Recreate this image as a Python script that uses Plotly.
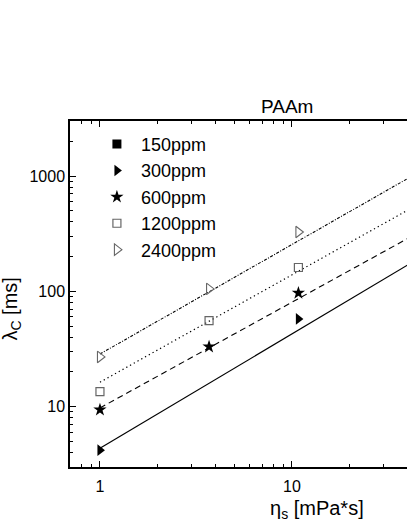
import plotly.graph_objects as go

# 데이터
eta_150 = [None]
lam_150 = [None]
eta_300 = [1.0, 10.8]
lam_300 = [4.2, 57.7]
eta_600 = [1.0, 3.7, 10.8]
lam_600 = [9.4, 33.1, 96.8]
eta_1200 = [1.0, 3.7, 10.8]
lam_1200 = [13.5, 55.7, 161]
eta_2400 = [1.0, 3.7, 10.8]
lam_2400 = [27, 105, 327]

# 피팅 직선 (양 끝점)
fit_eta = [1, 40]
fit_300 = [4.36, 169]
fit_600 = [9.75, 287]
fit_1200 = [16.3, 505]
fit_2400 = [28.6, 950]

x_ticks = [1, 10]
x_minor = [0.8, 0.9, 2, 3, 4, 5, 6, 7, 8, 9, 20, 30]
y_ticks = [10, 100, 1000]
y_tick_text = ["10", "100", "1000"]
y_minor = [4, 5, 6, 7, 8, 9, 20, 30, 40, 50, 60, 70, 80, 90,
           200, 300, 400, 500, 600, 700, 800, 900, 2000]

grey = "#666666"
FONT = "Liberation Sans, Arial, sans-serif"

fig = go.Figure()

# 피팅 직선
fig.add_trace(go.Scatter(x=fit_eta, y=fit_300, mode="lines", showlegend=False,
                         line=dict(color="black", width=1.2)))
fig.add_trace(go.Scatter(x=fit_eta, y=fit_600, mode="lines", showlegend=False,
                         line=dict(color="black", width=1.1, dash="6px,4px")))
fig.add_trace(go.Scatter(x=fit_eta, y=fit_1200, mode="lines", showlegend=False,
                         line=dict(color="black", width=1.2, dash="1.3px,3px")))
fig.add_trace(go.Scatter(x=fit_eta, y=fit_2400, mode="lines", showlegend=False,
                         line=dict(color="black", width=1.1, dash="3px,1.5px,1px,1.5px")))

# 측정값
fig.add_trace(go.Scatter(x=eta_150, y=lam_150, mode="markers", name="150ppm",
                         marker=dict(symbol="square", size=9, color="black")))
fig.add_trace(go.Scatter(x=eta_300, y=lam_300, mode="markers", name="300ppm",
                         marker=dict(symbol="triangle-right", size=10, color="black")))
fig.add_trace(go.Scatter(x=eta_600, y=lam_600, mode="markers", name="600ppm",
                         marker=dict(symbol="star", size=10, color="black")))
fig.add_trace(go.Scatter(x=eta_1200, y=lam_1200, mode="markers", name="1200ppm",
                         marker=dict(symbol="square-open", size=8, color=grey,
                                     line=dict(width=1.2))))
fig.add_trace(go.Scatter(x=eta_2400, y=lam_2400, mode="markers", name="2400ppm",
                         marker=dict(symbol="triangle-right-open", size=10, color=grey,
                                     line=dict(width=1.1))))

fig.update_xaxes(
    type="log", range=[-0.156, 1.599],
    showline=True, linecolor="black", linewidth=1.5, mirror="ticks",
    ticks="inside", ticklen=6, tickwidth=1.3, tickcolor="black",
    tickvals=x_ticks, ticktext=["1", "10"],
    minor=dict(tickvals=x_minor, ticks="inside", ticklen=3.5, tickwidth=1.2, tickcolor="black"),
    showgrid=False, zeroline=False,
    tickfont=dict(size=16, color="black"), ticklabelstandoff=4,
)
fig.update_yaxes(
    type="log", range=[0.477, 3.477],
    showline=True, linecolor="black", linewidth=1.5, mirror=False,
    ticks="inside", ticklen=6, tickwidth=1.3, tickcolor="black",
    tickvals=y_ticks, ticktext=y_tick_text,
    minor=dict(tickvals=y_minor, ticks="inside", ticklen=3.5, tickwidth=1.2, tickcolor="black"),
    showgrid=False, zeroline=False,
    tickfont=dict(size=16, color="black"), ticklabelstandoff=0,
)

# 제목, 축 제목
fig.add_annotation(text="PAAm", xref="paper", yref="paper", x=0.645, y=1.0,
                   xanchor="center", yanchor="bottom", yshift=2, showarrow=False,
                   font=dict(size=19, color="black"))
fig.add_annotation(text="η<sub>s</sub> [mPa*s]", xref="paper", yref="paper",
                   x=0.732, y=-0.122, xanchor="center", yanchor="middle", showarrow=False,
                   font=dict(size=20, color="black"))
fig.add_annotation(text="λ<sub>C</sub> [ms]", xref="paper", yref="paper",
                   x=-0.174, y=0.456, xanchor="center", yanchor="middle",
                   textangle=-90, showarrow=False,
                   font=dict(size=20, color="black"))

fig.update_layout(
    width=407, height=527,
    margin=dict(l=70, r=0, t=121, b=60),
    plot_bgcolor="white", paper_bgcolor="white",
    font=dict(family=FONT, color="black"),
    legend=dict(x=0.068, y=0.986, xanchor="left", yanchor="top",
                bgcolor="rgba(0,0,0,0)", font=dict(size=18),
                itemwidth=38, tracegroupgap=0),
)

# 페이지 여백 제거, 툴바 숨김
fig.write_html("out.html", config={"displayModeBar": False},
               post_script="document.body.style.margin='0';document.body.style.overflow='hidden';")
